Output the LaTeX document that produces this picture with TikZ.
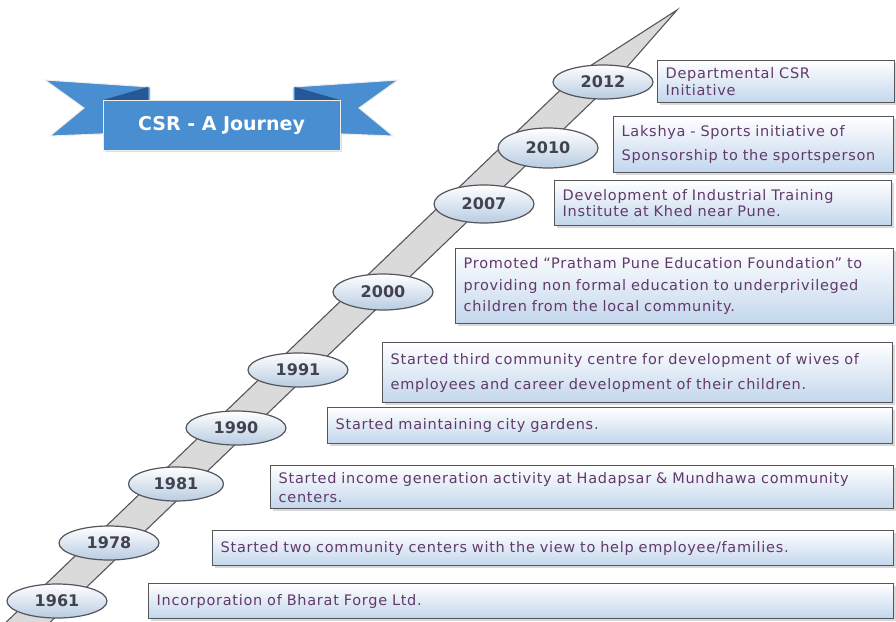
\documentclass[tikz,border=0pt]{standalone}
\usepackage{fontspec}
\setmainfont{DejaVu Sans}
\newfontfamily\evfont{DejaVu Sans}[LetterSpace=5]
\usetikzlibrary{shapes.geometric, shadows, calc}
\usepackage{xcolor}
\definecolor{ribbonblue}{RGB}{72,142,208}
\definecolor{folddark}{RGB}{38,88,150}
\definecolor{boxblue}{RGB}{194,214,236}
\definecolor{ellblue}{RGB}{184,204,226}
\definecolor{edgegray}{RGB}{85,85,92}
\definecolor{evtext}{RGB}{98,58,106}
\definecolor{yeartext}{RGB}{66,66,80}
\definecolor{bandgray}{RGB}{218,218,218}
\tikzstyle{year} = [ellipse, minimum width=100, minimum height=34, inner sep=0pt,
    draw=edgegray, line width=1.2pt, top color=white, bottom color=ellblue,
    text=yeartext, font=\fontsize{16}{16}\selectfont\bfseries]
\tikzstyle{event} = [rectangle, anchor=north west, align=left, inner xsep=8, inner ysep=4,
    draw=edgegray, line width=1.4pt, top color=white, bottom color=boxblue,
    text=evtext, font=\evfont\fontsize{14.5}{20}\selectfont,
    drop shadow={shadow xshift=2.5pt, shadow yshift=-2.5pt, opacity=0.3}]
\tikzstyle{banner} = [rectangle, minimum width=237, minimum height=50, fill=ribbonblue,
    draw=white!85!gray, line width=1pt, text=white, font=\fontsize{19}{19}\selectfont\bfseries,
    drop shadow={shadow xshift=2pt, shadow yshift=-2pt, opacity=0.25}]
\tikzstyle{tail} = [fill=ribbonblue, draw=white!85!gray, line width=1pt]
\tikzset{lead/.style={font=\evfont\fontsize{14.5}{#1}\selectfont}}

\begin{document}
\begin{tikzpicture}[x=1pt, y=-1pt]
\useasboundingbox (0,0) rectangle (896,621);

% ribbon title
\filldraw[tail] (45,80) -- (150,87) -- (150,132) -- (50,136) -- (84,108) -- cycle;
\filldraw[tail] (398,80) -- (293,87) -- (293,132) -- (393,136) -- (359,108) -- cycle;
\fill[folddark] (103,100) -- (148,87) -- (148,100) -- cycle;
\fill[folddark] (340,100) -- (295,87) -- (295,100) -- cycle;
\node (title) [banner] at (221.5,125) {CSR - A Journey};

% timeline band
\filldraw[fill=bandgray, draw=edgegray, line width=1.1pt]
    (-2,630) -- (576,75) -- (677,10) -- (620,75) -- (42,630) -- cycle;

\node (y2012) [year] at (603,82) {2012};
\node (y2010) [year, minimum height=40] at (548,148) {2010};
\node (y2007) [year, minimum height=38] at (484,204) {2007};
\node (y2000) [year, minimum height=36] at (383,292) {2000};
\node (y1991) [year] at (298,370) {1991};
\node (y1990) [year] at (236,428) {1990};
\node (y1981) [year, minimum width=95] at (176,484) {1981};
\node (y1978) [year] at (109,543) {1978};
\node (y1961) [year] at (57,601) {1961};

\node (e2012) [event, text width=221, minimum height=42, lead=17] at (657,60)
    {Departmental CSR\\Initiative};
\node (e2010) [event, text width=264, minimum height=56, lead=24] at (613,116)
    {Lakshya - Sports initiative of\\Sponsorship to the sportsperson};
\node (e2007) [event, text width=321, minimum height=45, lead=16] at (554,180)
    {Development of Industrial Training\\Institute at Khed near Pune.};
\node (e2000) [event, text width=422, minimum height=75, lead=21.5] at (455,248)
    {Promoted “Pratham Pune Education Foundation” to\\providing non formal education to underprivileged\\children from the local community.};
\node (e1991) [event, text width=494, minimum height=60, lead=25] at (382,342)
    {Started third community centre for development of wives of\\employees and career development of their children.};
\node (e1990) [event, text width=549, minimum height=36] at (327,407)
    {Started maintaining city gardens.};
\node (e1981) [event, text width=607, minimum height=43, lead=19] at (270,465)
    {Started income generation activity at Hadapsar \& Mundhawa community\\centers.};
\node (e1978) [event, text width=665, minimum height=35] at (212,530)
    {Started two community centers with the view to help employee/families.};
\node (e1961) [event, text width=729, minimum height=35] at (148,583)
    {Incorporation of Bharat Forge Ltd.};
\end{tikzpicture}
\end{document}
